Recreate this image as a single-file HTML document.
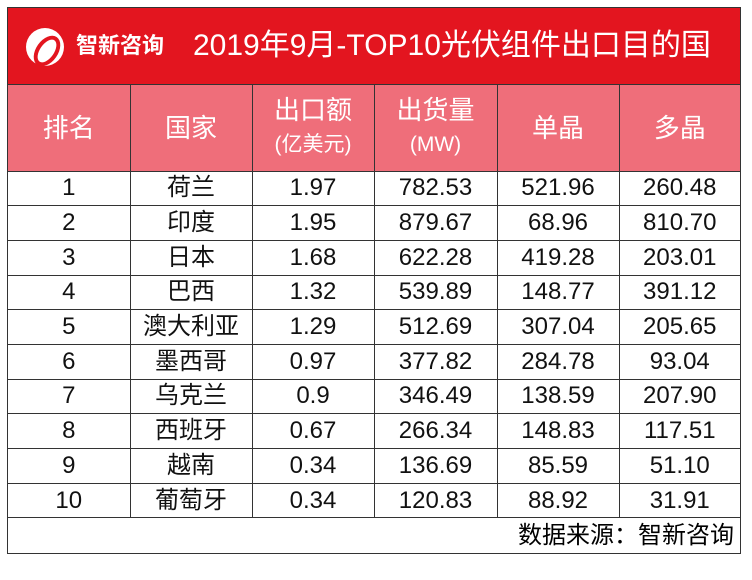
<!DOCTYPE html>
<html><head><meta charset="utf-8"><style>
body{margin:0;width:752px;height:580px;background:#fff;overflow:hidden;font-family:"Liberation Sans","Noto Sans CJK SC",sans-serif}
#t{position:absolute;left:7px;top:7px;width:734px;border:1.5px solid #333;box-sizing:border-box}
.title{height:77px;background:#e3151f;color:#fff;position:relative;border-bottom:1.5px solid #333;box-sizing:border-box}
.title .logo{position:absolute;left:18px;top:20px;width:38px;height:38px;border-radius:50%;background:#fff}
.title .logo:after{content:"";position:absolute;left:10px;top:6px;width:14px;height:26px;border-radius:50%;border:4px solid #e3151f;transform:rotate(35deg)}
.title .brand{position:absolute;left:68px;top:24px;font-size:22px;font-weight:bold;line-height:28px}
.title .txt{position:absolute;left:185px;top:20px;font-size:30px;line-height:36px}
table{border-collapse:collapse;width:100%;table-layout:fixed}
td{border:1.5px solid #333;text-align:center;font-size:24px;color:#111;height:34.7px;line-height:26px;padding:0;box-sizing:border-box;overflow:hidden}
tr{height:34.7px}
tr.h{height:86px}
tr.h td{background:#ef6e7a;color:#fff;font-size:26px;height:86px;line-height:32px}
tr.h td small{font-size:21px}
tr:first-child td{border-top:none}
td:first-child{border-left:none}td:last-child{border-right:none}
.foot{height:35px;text-align:right;font-size:24px;padding-right:6px;line-height:35px}
</style></head><body>
<div id="t">
<div class="title"><div class="logo"></div><span class="brand">智新咨询</span><span class="txt">2019年9月-TOP10光伏组件出口目的国</span></div>
<table>
<colgroup><col style="width:122px"><col style="width:122px"><col style="width:122px"><col style="width:123px"><col style="width:122px"><col></colgroup>
<tr class="h"><td>排名</td><td>国家</td><td>出口额<br><small>(亿美元)</small></td><td>出货量<br><small>(MW)</small></td><td>单晶</td><td>多晶</td></tr>
<tr><td>1</td><td>荷兰</td><td>1.97</td><td>782.53</td><td>521.96</td><td>260.48</td></tr>
<tr><td>2</td><td>印度</td><td>1.95</td><td>879.67</td><td>68.96</td><td>810.70</td></tr>
<tr><td>3</td><td>日本</td><td>1.68</td><td>622.28</td><td>419.28</td><td>203.01</td></tr>
<tr><td>4</td><td>巴西</td><td>1.32</td><td>539.89</td><td>148.77</td><td>391.12</td></tr>
<tr><td>5</td><td>澳大利亚</td><td>1.29</td><td>512.69</td><td>307.04</td><td>205.65</td></tr>
<tr><td>6</td><td>墨西哥</td><td>0.97</td><td>377.82</td><td>284.78</td><td>93.04</td></tr>
<tr><td>7</td><td>乌克兰</td><td>0.9</td><td>346.49</td><td>138.59</td><td>207.90</td></tr>
<tr><td>8</td><td>西班牙</td><td>0.67</td><td>266.34</td><td>148.83</td><td>117.51</td></tr>
<tr><td>9</td><td>越南</td><td>0.34</td><td>136.69</td><td>85.59</td><td>51.10</td></tr>
<tr><td>10</td><td>葡萄牙</td><td>0.34</td><td>120.83</td><td>88.92</td><td>31.91</td></tr>
</table>
<div class="foot">数据来源：智新咨询</div>
</div>
</body></html>
